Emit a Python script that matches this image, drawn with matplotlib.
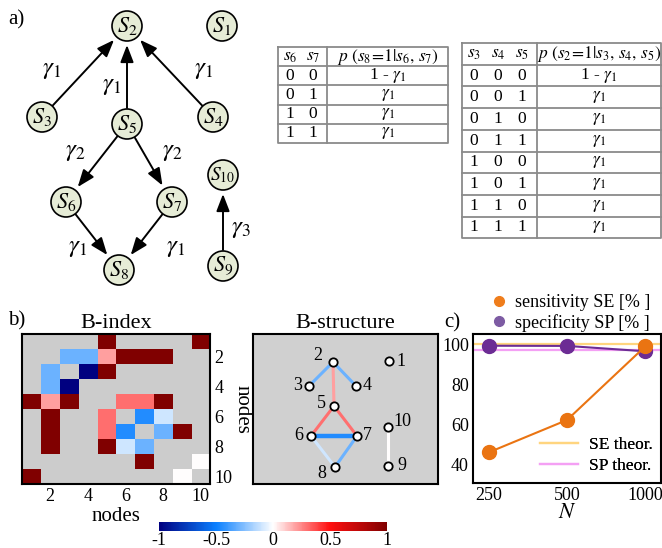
import numpy as np
import matplotlib.pyplot as plt
from itertools import product
from matplotlib.colors import LinearSegmentedColormap, Normalize
from matplotlib.patches import Circle
from matplotlib.lines import Line2D

plt.rcParams['font.family'] = ['Liberation Serif', 'DejaVu Serif']
plt.rcParams['mathtext.fontset'] = 'stix'

# ---- data ----
# network of panel a: (source, target, gamma index)
net_edges = [(3, 2, 1), (5, 2, 1), (4, 2, 1), (5, 6, 2), (5, 7, 2),
             (6, 8, 1), (7, 8, 1), (9, 10, 3)]
# truth tables
tab1_vars = ['s_6', 's_7']
tab1_head = r'$p\ (s_8\!=\!1|s_6,\,s_7)$'
tab2_vars = ['s_3', 's_4', 's_5']
tab2_head = r'$p\ (s_2\!=\!1|s_3,\,s_4,\,s_5)$'

# B-index matrix (nan = grey)
n = np.nan
bindex = np.array([
    [n,    n,    n,    n,    1.0,  n,    n,    n,    n,    1.0],
    [n,    n,   -0.3, -0.3,  0.2,  1.0,  1.0,  1.0,  n,    n],
    [n,   -0.3,  n,   -1.0,  1.0,  n,    n,    n,    n,    n],
    [n,   -0.3, -1.0,  n,    n,    n,    n,    n,    n,    n],
    [1.0,  0.2,  1.0,  n,    n,    0.3,  0.3,  1.0,  n,    n],
    [n,    1.0,  n,    n,    0.3,  n,   -0.45, -0.1, n,    n],
    [n,    1.0,  n,    n,    0.3, -0.45, n,   -0.3,  1.0,  n],
    [n,    1.0,  n,    n,    1.0, -0.1, -0.3,  n,    n,    n],
    [n,    n,    n,    n,    n,    n,    1.0,  n,    n,    0.0],
    [1.0,  n,    n,    n,    n,    n,    n,    n,    0.0,  n],
])
struct_edges = [(2, 3), (2, 4), (2, 5), (5, 6), (5, 7), (6, 7), (6, 8), (7, 8), (9, 10)]

# panel c
N = [250, 500, 1000]
sensitivity = [45.9, 62.2, 99.3]
specificity = [99.6, 99.5, 96.8]
se_theor = 100.3
sp_theor = 97.6

W, H = 662, 548
fig = plt.figure(figsize=(W / 100, H / 100), dpi=100)


def rect(x0, y0, x1, y1):
    return [x0 / W, 1 - y1 / H, (x1 - x0) / W, (y1 - y0) / H]


# ---- panel a ----
ax_a = fig.add_axes(rect(0, 0, W, 292))
ax_a.set_xlim(0, W)
ax_a.set_ylim(292, 0)
ax_a.axis('off')

node_pos = {1: (222, 26), 2: (127, 26), 3: (42, 117), 4: (213, 117), 5: (127, 124),
            6: (66, 202), 7: (172, 202), 8: (119, 270), 9: (223, 266), 10: (223, 175)}
gamma_pos = {(3, 2): (52, 70), (5, 2): (112, 86), (4, 2): (204, 70), (5, 6): (75, 152),
             (5, 7): (172, 152), (6, 8): (78, 248), (7, 8): (176, 248), (9, 10): (241, 229)}
r = 15
for k, (x, y) in node_pos.items():
    ax_a.add_patch(Circle((x, y), r, facecolor='#e6ecd6', edgecolor='k', lw=1.2, zorder=3))
    ax_a.text(x, y, '$S_{%d}$' % k, ha='center', va='center', fontsize=16 if k < 10 else 14, zorder=4)

for s, t, g in net_edges:
    p0 = np.array(node_pos[s], float)
    p1 = np.array(node_pos[t], float)
    u = (p1 - p0) / np.linalg.norm(p1 - p0)
    a0 = p0 + u * (r + 1)
    a1 = p1 - u * (r + 4)
    ax_a.annotate('', xy=a1, xytext=a0,
                  arrowprops=dict(arrowstyle='-|>,head_length=0.65,head_width=0.25',
                                  color='k', lw=1.4, mutation_scale=16, shrinkA=0, shrinkB=0))
    ax_a.text(*gamma_pos[(s, t)], r'$\gamma_{%d}$' % g, ha='center', va='center', fontsize=18)

ax_a.text(8, 20, 'a)', fontsize=15, ha='left', va='center')


def draw_table(ax, x0, x1, sep, top, row_h, col_x, names, head):
    nv = len(names)
    rows = list(product([0, 1], repeat=nv))
    bottom = top + row_h * (len(rows) + 1)
    lc = '#8a8a8a'
    ax.plot([x0, x1, x1, x0, x0], [top, top, bottom, bottom, top], color=lc, lw=1.3)
    ax.plot([sep, sep], [top, bottom], color=lc, lw=1.3)
    for i in range(1, len(rows) + 1):
        ax.plot([x0, x1], [top + i * row_h] * 2, color=lc, lw=1.3)
    pc = (sep + x1) / 2
    yc = top + row_h / 2
    for cx, nm in zip(col_x, names):
        ax.text(cx, yc, '$%s$' % nm, ha='center', va='center', fontsize=12.5)
    ax.text(pc, yc, head, ha='center', va='center', fontsize=12.5)
    for i, row in enumerate(rows):
        yc = top + (i + 1.5) * row_h
        for cx, v in zip(col_x, row):
            ax.text(cx, yc, str(v), ha='center', va='center', fontsize=12.5)
        txt = r'1 - $\gamma_1$' if sum(row) == 0 else r'$\gamma_1$'
        ax.text(pc, yc, txt, ha='center', va='center', fontsize=12.5)


draw_table(ax_a, 278, 448, 327, 47, 19.2, [290, 313], tab1_vars, tab1_head)
draw_table(ax_a, 462, 661, 537, 43, 21.7, [474, 498, 522], tab2_vars, tab2_head)

# ---- panel b: B-index ----
cmap = LinearSegmentedColormap.from_list('bidx', ['#000080', '#0a80ff', '#ffffff', '#ff1010', '#800000'])
norm = Normalize(-1, 1)

ax_b = fig.add_axes(rect(22, 334, 210, 484))
ax_b.set_facecolor('#cccccc')
im = ax_b.imshow(bindex, cmap=cmap, norm=norm, extent=(0.5, 10.5, 10.5, 0.5),
                 aspect='auto', interpolation='nearest')
ax_b.set_xticks([2, 4, 6, 8, 10])
ax_b.set_yticks([2, 4, 6, 8, 10])
ax_b.yaxis.tick_right()
ax_b.yaxis.set_label_position('right')
ax_b.tick_params(length=0, labelsize=13, pad=3)
ax_b.set_xlabel('nodes', fontsize=15, labelpad=1)
ax_b.set_ylabel('nodes', fontsize=15, rotation=270, labelpad=14)
ax_b.set_title('B-index', fontsize=16, pad=4)
for sp in ax_b.spines.values():
    sp.set_linewidth(1.5)
fig.text(8 / W, 1 - 321 / H, 'b)', fontsize=15, ha='left', va='center')

# ---- panel b: B-structure ----
ax_s = fig.add_axes(rect(253, 334, 438, 484))
ax_s.set_xlim(0, 185)
ax_s.set_ylim(150, 0)
ax_s.set_facecolor('#d0d0d0')
ax_s.set_xticks([])
ax_s.set_yticks([])
for sp in ax_s.spines.values():
    sp.set_linewidth(1.5)
ax_s.set_title('B-structure', fontsize=16, pad=4)

s_pos = {1: (136, 27), 2: (80, 28), 3: (56, 52), 4: (103, 52), 5: (81, 72),
         6: (58, 102), 7: (104, 102), 8: (82, 133), 9: (135, 132), 10: (135, 93)}
s_lab = {1: (12, 0), 2: (-15, -7), 3: (-11, 0), 4: (11, 0), 5: (-13, -3),
         6: (-12, 0), 7: (10, 0), 8: (-13, 6), 9: (14, 0), 10: (14, -6)}
for i, j in struct_edges:
    v = bindex[i - 1, j - 1]
    (x0, y0), (x1, y1) = s_pos[i], s_pos[j]
    ax_s.plot([x0, x1], [y0, y1], color=cmap(norm(v)), lw=3.2 if abs(v) > 0.4 else 2.2,
              solid_capstyle='butt', zorder=1)
for k, (x, y) in s_pos.items():
    ax_s.plot(x, y, 'o', ms=6, mfc='white', mec='k', mew=1.3, zorder=3)
    dx, dy = s_lab[k]
    ax_s.text(x + dx, y + dy, str(k), ha='center', va='center', fontsize=13)

# colorbar
cax = fig.add_axes(rect(159, 522, 387, 531))
cb = fig.colorbar(im, cax=cax, orientation='horizontal')
cb.outline.set_visible(False)
cb.set_ticks([-1, -0.5, 0, 0.5, 1])
cb.set_ticklabels(['-1', '-0.5', '0', '0.5', '1'])
cax.tick_params(length=0, labelsize=13, pad=1)

# ---- panel c ----
c_orange = '#ea7412'
c_purple = '#6c2c94'
ax_c = fig.add_axes(rect(473, 334, 661, 483))
ax_c.axhline(se_theor, color='#ffd57f', lw=1.6, zorder=1)
ax_c.axhline(sp_theor, color='#f4a0f4', lw=1.6, zorder=1)
ax_c.plot(N, specificity, '-o', color=c_purple, ms=10, lw=1.5, zorder=2)
ax_c.plot(N, sensitivity, '-o', color=c_orange, ms=10, lw=1.5, zorder=3)
ax_c.set_xscale('log', base=2)
ax_c.set_xlim(250 / 2 ** 0.2, 1000 * 2 ** 0.2)
ax_c.set_ylim(30.5, 105.5)
ax_c.set_xticks(N)
ax_c.set_xticklabels([str(v) for v in N])
ax_c.minorticks_off()
ax_c.set_yticks([40, 60, 80, 100])
ax_c.tick_params(length=0, labelsize=13, pad=3)
ax_c.set_xlabel('$N$', fontsize=16, labelpad=0)
for sp in ax_c.spines.values():
    sp.set_linewidth(1.5)

theor = ax_c.legend([Line2D([], [], color='#ffd57f', lw=1.6), Line2D([], [], color='#f4a0f4', lw=1.6)],
                    ['SE theor.', 'SP theor.'], loc='lower right', frameon=False, fontsize=12.5,
                    handlelength=2.2, handletextpad=0.6, borderaxespad=0.1, labelspacing=0.3)
ax_c.add_artist(theor)

top_handles = [Line2D([], [], ls='', marker='o', ms=7, color='#ef7d1c'),
               Line2D([], [], ls='', marker='o', ms=7, color='#7d5ba3')]
fig.legend(top_handles, ['sensitivity SE [% ]', 'specificity SP [% ]'], loc='upper left',
           bbox_to_anchor=(481 / W, 1 - 285 / H), frameon=False, fontsize=13,
           handlelength=1.0, handletextpad=0.4, labelspacing=0.15, borderpad=0)
fig.text(444 / W, 1 - 323 / H, 'c)', fontsize=15, ha='left', va='center')

fig.savefig('out.png', dpi=100)
